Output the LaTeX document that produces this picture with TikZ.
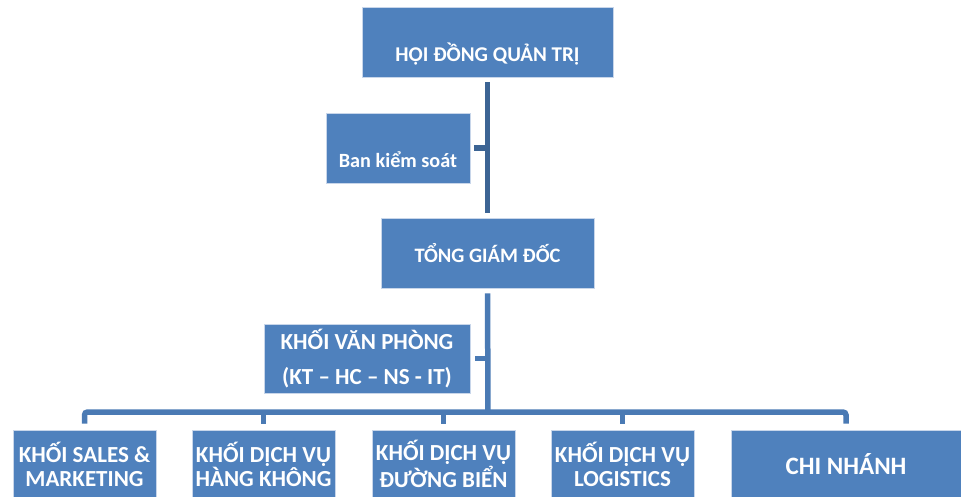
\documentclass[tikz,border=0pt]{standalone}
\usepackage{fontspec}
\setmainfont{Carlito}
\definecolor{boxfill}{HTML}{4F81BD}
\definecolor{boxedge}{HTML}{C8D6EA}
\definecolor{linedark}{HTML}{3C6494}
\definecolor{linemid}{HTML}{4A7AB4}
\tikzset{
  orgbox/.style={rectangle, fill=boxfill, draw=boxedge, line width=0.8pt, inner sep=0pt, text=white, font=\bfseries\fontsize{20}{24}\selectfont, align=center},
  conn/.style={line width=5.5pt, draw=linemid},
  conndark/.style={line width=5.5pt, draw=linedark},
}
\begin{document}
\begin{tikzpicture}[x=1pt, y=-1pt]
\useasboundingbox (0,0) rectangle (961,496);
\node[orgbox, minimum width=251pt, text height=54pt, text depth=16pt, font=\bfseries\fontsize{21}{25}\selectfont] (hdqt) at (487.5,42) {HỘI ĐỒNG QUẢN TRỊ};
\node[orgbox, minimum width=144pt, text height=54pt, text depth=16pt, font=\bfseries\fontsize{20.2}{24}\selectfont] (bks) at (398,148) {Ban kiểm soát};
\node[orgbox, minimum width=213pt, minimum height=70pt, font=\bfseries\fontsize{20.5}{24}\selectfont] (tgd) at (487.5,253) {TỔNG GIÁM ĐỐC};
\node[orgbox, minimum width=206pt, minimum height=69pt, font=\bfseries\fontsize{23}{35}\selectfont] (kvp) at (367,358.5) {KHỐI VĂN PHÒNG\\(KT – HC – NS - IT)};
\tikzset{bottom/.style={orgbox, minimum height=68pt, font=\bfseries\fontsize{23}{24}\selectfont}}
\node[bottom, minimum width=143pt] (s1) at (84.5,464) {KHỐI SALES \&\\MARKETING};
\node[bottom, minimum width=143pt] (s2) at (263.5,464) {KHỐI DỊCH VỤ\\HÀNG KHÔNG};
\node[bottom, minimum width=143pt] (s3) at (443.5,464) {KHỐI DỊCH VỤ\\ĐƯỜNG BIỂN};
\node[bottom, minimum width=143pt] (s4) at (622.5,464) {KHỐI DỊCH VỤ\\LOGISTICS};
\node[bottom, minimum width=230pt, font=\bfseries\fontsize{25}{28}\selectfont] (s5) at (846,464) {CHI NHÁNH};
\coordinate (bus) at (488,412);
% connectors
\draw[conndark, shorten <=5pt, shorten >=5pt] (hdqt.south) -- (tgd.north);
\draw[conndark] ([xshift=4pt]bks.east) -- (bks.east -| hdqt.south);
\draw[conn, shorten <=5pt] (tgd.south) -- (bus);
\draw[conn] ([xshift=5pt]kvp.east) -- (kvp.east -| tgd.south);
\draw[conn, rounded corners=3pt] ([yshift=6pt]s1.north) |- (bus) -| ([yshift=6pt]s5.north);
\draw[conn] ([yshift=6pt]s2.north) -- (s2.north |- bus);
\draw[conn] ([yshift=6pt]s3.north) -- (s3.north |- bus);
\draw[conn] ([yshift=6pt]s4.north) -- (s4.north |- bus);
\end{tikzpicture}
\end{document}
